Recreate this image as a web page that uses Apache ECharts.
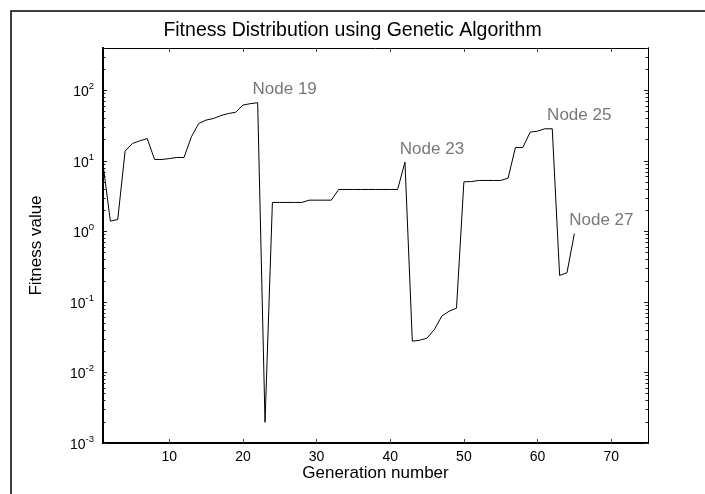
<!DOCTYPE html>
<html>
<head>
<meta charset="utf-8">
<script src="https://cdn.jsdelivr.net/npm/echarts@6/dist/echarts.min.js"></script>
<style>
html,body{margin:0;padding:0;background:#fff;}
#chart{width:705px;height:494px;}
</style>
</head>
<body>
<div id="chart"></div>
<script>
// ---- data ----
const generations = [1,2,3,4,5,6,7,8,9,10,11,12,13,14,15,16,17,18,19,20,21,22,23,24,25,26,27,28,29,30,31,32,33,34,35,36,37,38,39,40,41,42,43,44,45,46,47,48,49,50,51,52,53,54,55,56,57,58,59,60,61,62,63,64,65];
const fitness = [9,1.4,1.48,13.8,17.7,19.3,20.8,10.5,10.5,10.8,11.2,11.2,22,34,38,40,44,47,49,62,65,67,
  0.00197,2.58,2.58,2.58,2.58,2.58,2.78,2.78,2.78,2.78,3.94,3.94,3.94,3.94,3.94,3.94,3.94,3.94,3.94,9.6,
  0.0278,0.0287,0.0307,0.0408,0.063,0.074,0.0817,5.06,5.1,5.29,5.29,5.29,5.29,5.7,15.5,15.5,25.6,26.5,28.6,28.6,
  0.238,0.26,0.93];
const annotationGens = [22,42,62,65];
const annotationTexts = ['Node 19','Node 23','Node 25','Node 27'];
const xTicks = [10,20,30,40,50,60,70];
const yTicks = [0.001,0.01,0.1,1,10,100];
const yMinorTicks = [];
yTicks.forEach(function(d){ for (let k=2;k<=9;k++){ const v=d*k; if (v<=400) yMinorTicks.push(v);} });

const FONT = '"Liberation Sans", Arial, Helvetica, sans-serif';
const chart = echarts.init(document.getElementById('chart'), null, {renderer:'canvas'});

const yBase = {type:'log', logBase:10, min:0.001, max:400, splitLine:{show:false}};
function yAxis(pos, minor, showLabel, lw){
  return Object.assign({}, yBase, {
    position: pos,
    axisLine:{show:true, onZero:false, lineStyle:{color:'#000', width:lw}},
    axisTick:{show:true, inside:true, length: minor?2.5:4, customValues: minor?yMinorTicks:yTicks, lineStyle:{color:'#222', width:1}},
    minorTick:{show:false},
    axisLabel:{show:showLabel, customValues: yTicks, margin:9, fontFamily:FONT,
      formatter:function(v){ const e=Math.round(Math.log10(v)); return '{b|10}{s|'+e+'}'; },
      rich:{ b:{fontSize:14, color:'#000', fontFamily:FONT, lineHeight:18, verticalAlign:'bottom'},
             s:{fontSize:9.5, color:'#000', fontFamily:FONT, lineHeight:18, verticalAlign:'top', padding:[0,0,0,0]} }
    }
  });
}
function xAxis(pos, showLabel, lw){
  return {type:'value', min:1, max:75, position:pos, splitLine:{show:false},
    axisLine:{show:true, onZero:false, lineStyle:{color:'#000', width:lw}},
    axisTick:{show:true, inside:true, length:4, customValues:xTicks, lineStyle:{color:'#444', width:1}},
    axisLabel:{show:showLabel, customValues:xTicks, margin:7, fontSize:14, color:'#000', fontFamily:FONT},
    name: showLabel ? 'Generation number' : '', nameLocation:'middle', nameGap:22, nameMoveOverlap:false,
    nameTextStyle:{fontSize:17, color:'#000', fontFamily:FONT}
  };
}

const annData = annotationGens.map(function(g,i){ return {value:[g, fitness[generations.indexOf(g)]], name:annotationTexts[i]}; });

chart.setOption({
  animation:false,
  backgroundColor:'#fff',
  title:{text:'Fitness Distribution using Genetic Algorithm', left:'center', top:16,
    textStyle:{fontSize:19.5, fontWeight:'normal', color:'#000', fontFamily:FONT}},
  grid:{left:103, right:57, top:48, bottom:51, containLabel:false},
  xAxis:[xAxis('bottom', true, 2), xAxis('top', false, 1)],
  yAxis:[
    Object.assign(yAxis('left', false, true, 2), {name:'Fitness value', nameLocation:'middle', nameGap:58, nameRotate:90, nameMoveOverlap:false,
      nameTextStyle:{fontSize:17, color:'#000', fontFamily:FONT}}),
    yAxis('left', true, false, 2),
    yAxis('right', false, false, 1),
    yAxis('right', true, false, 1)
  ],
  series:[
    {type:'line', xAxisIndex:0, yAxisIndex:0, showSymbol:false, symbol:'none',
      lineStyle:{color:'#000', width:1}, data: generations.map(function(g,i){return [g, fitness[i]];})},
    {type:'scatter', xAxisIndex:0, yAxisIndex:0, symbolSize:2, itemStyle:{color:'rgba(0,0,0,0)'}, data: annData,
      label:{show:true, position:[28,-12], align:'center', verticalAlign:'middle', formatter:'{b}', fontSize:17, color:'#555', fontFamily:FONT},
      labelLayout:{hideOverlap:false}, z:10}
  ],
  graphic:[{type:'rect', shape:{x:11, y:11, width:720, height:520}, style:{fill:null, stroke:'#000', lineWidth:1.5}, silent:true, z:100}]
});
</script>
</body>
</html>
